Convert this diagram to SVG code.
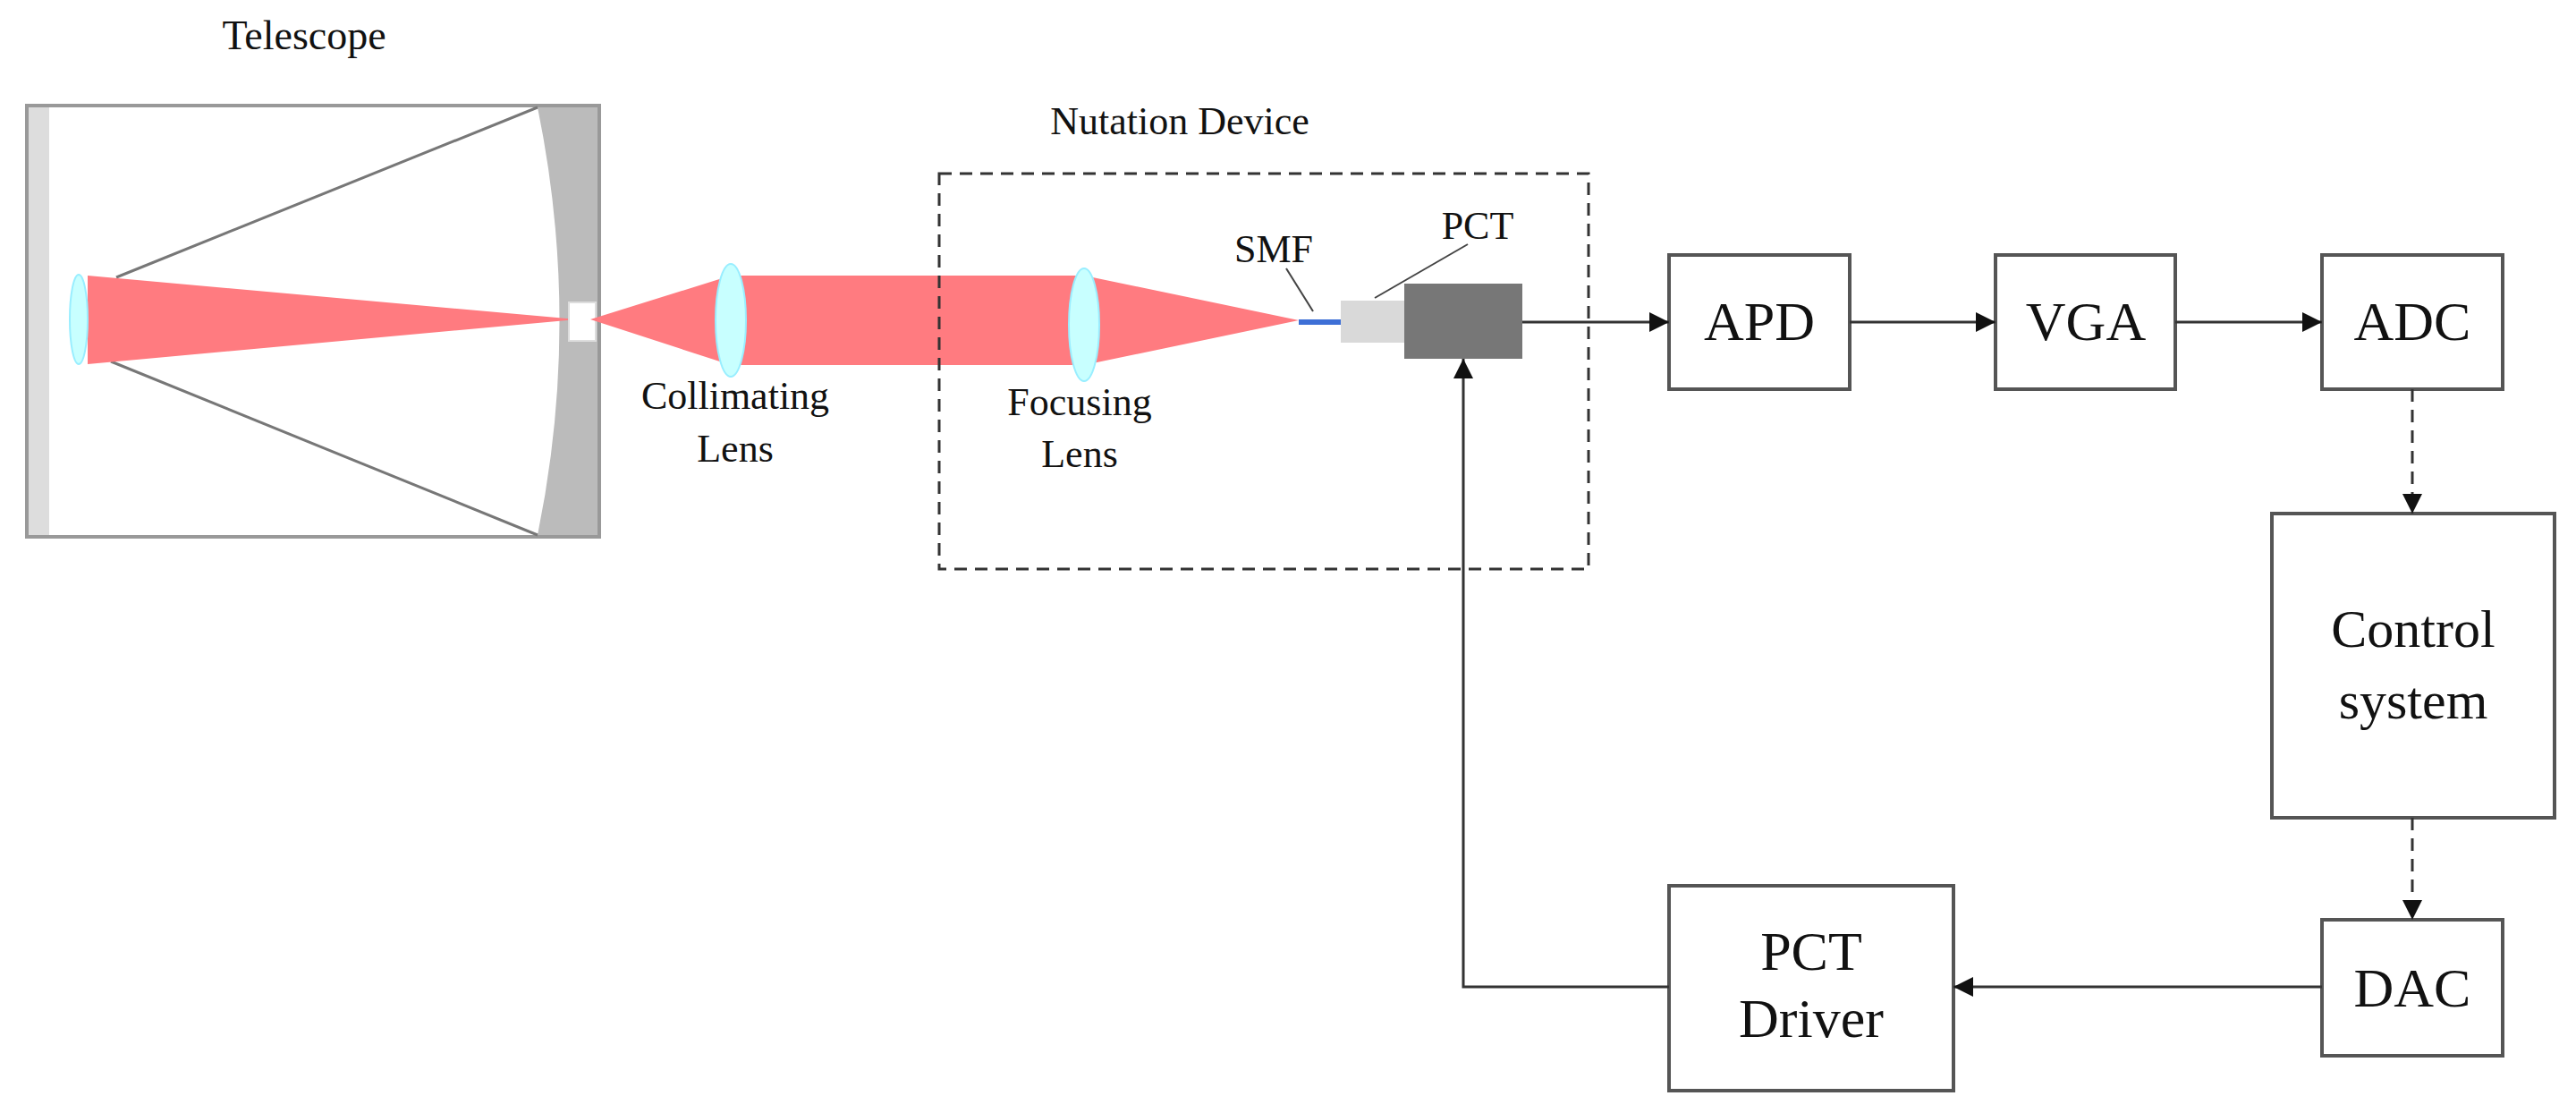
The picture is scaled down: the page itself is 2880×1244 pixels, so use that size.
<svg xmlns="http://www.w3.org/2000/svg" width="2880" height="1244" viewBox="0 0 2880 1244">
<style>
text{font-family:"Liberation Serif","Times New Roman",serif;fill:#111;text-anchor:middle}
.lbl{font-size:44px}
.box{font-size:62px}
.blk{fill:#fff;stroke:#555;stroke-width:4}
.con{stroke:#333;stroke-width:3;fill:none}
.dash{stroke-dasharray:14 9}
.lens{fill:#c8ffff;stroke:#9ef;stroke-width:2}
</style>
<defs>
<marker id="ah" markerWidth="10" markerHeight="10" refX="9" refY="5" orient="auto" markerUnits="userSpaceOnUse" viewBox="0 0 10 10"><path d="M0,0 L10,5 L0,10 z" fill="#111"/></marker>
<marker id="a" viewBox="0 0 10 10" refX="10" refY="5" markerWidth="22" markerHeight="22" markerUnits="userSpaceOnUse" orient="auto"><path d="M0,0 L10,5 L0,10 z" fill="#111"/></marker>
</defs>
<g id="telescope">
<text class="lbl" x="340" y="55" style="font-size:46px">Telescope</text>
<rect x="30" y="118" width="640" height="482" fill="#fff" stroke="#999" stroke-width="4"/>
<rect x="32" y="120" width="23" height="478" fill="#ddd"/>
<path d="M601,120 L668,120 L668,598 L601,598 Q650,359 601,120 z" fill="#bbb"/>
<line x1="601" y1="120" x2="130" y2="310" stroke="#777" stroke-width="3"/>
<line x1="124" y1="404" x2="601" y2="598" stroke="#777" stroke-width="3"/>
<path d="M98,308 L645,357 L98,407 z" fill="#ff7b80"/>
<ellipse cx="88" cy="357" rx="10" ry="50" class="lens"/>
<rect x="636" y="338" width="30" height="43" fill="#fff" stroke="#ddd" stroke-width="2"/>
</g>
<g id="collimating">
<path d="M660,357 L817,308 L817,408 z" fill="#ff7b80"/>
<rect x="817" y="308" width="395" height="100" fill="#ff7b80"/>
<ellipse cx="817" cy="358" rx="17" ry="63" class="lens"/>
<text class="lbl" x="822" y="457">Collimating</text>
<text class="lbl" x="822" y="516">Lens</text>
</g>
<g id="focusing">
<path d="M1212,308 L1452,358 L1212,408 z" fill="#ff7b80"/>
<ellipse cx="1212" cy="363" rx="17" ry="63" class="lens"/>
<text class="lbl" x="1207" y="464">Focusing</text>
<text class="lbl" x="1207" y="522">Lens</text>
</g>
<g id="nutation">
<rect x="1050" y="194" width="726" height="442" fill="none" stroke="#333" stroke-width="3" stroke-dasharray="14 9"/>
<text class="lbl" x="1319" y="150">Nutation Device</text>
<line x1="1452" y1="360" x2="1499" y2="360" stroke="#3d6fd6" stroke-width="6"/>
<rect x="1499" y="336" width="71" height="47" fill="#d9d9d9"/>
<rect x="1570" y="317" width="132" height="84" fill="#777"/>
<text class="lbl" x="1424" y="293">SMF</text>
<text class="lbl" x="1652" y="267">PCT</text>
<line x1="1438" y1="300" x2="1468" y2="348" stroke="#444" stroke-width="2"/>
<line x1="1641" y1="273" x2="1537" y2="333" stroke="#444" stroke-width="2"/>
</g>
<g id="apd"><rect class="blk" x="1866" y="285" width="202" height="150"/><text class="box" x="1967" y="380">APD</text></g>
<g id="vga"><rect class="blk" x="2231" y="285" width="201" height="150"/><text class="box" x="2332" y="380">VGA</text></g>
<g id="adc"><rect class="blk" x="2596" y="285" width="202" height="150"/><text class="box" x="2697" y="380">ADC</text></g>
<g id="control"><rect class="blk" x="2540" y="574" width="316" height="340"/><text class="box" x="2698" y="723" style="font-size:60px">Control</text><text class="box" x="2698" y="803" style="font-size:60px">system</text></g>
<g id="dac"><rect class="blk" x="2596" y="1028" width="202" height="152"/><text class="box" x="2697" y="1125">DAC</text></g>
<g id="driver"><rect class="blk" x="1866" y="990" width="318" height="229"/><text class="box" x="2025" y="1084">PCT</text><text class="box" x="2025" y="1159">Driver</text></g>
<g id="connectors">
<line class="con" x1="1702" y1="360" x2="1866" y2="360" marker-end="url(#a)"/>
<line class="con" x1="2068" y1="360" x2="2231" y2="360" marker-end="url(#a)"/>
<line class="con" x1="2432" y1="360" x2="2596" y2="360" marker-end="url(#a)"/>
<line class="con dash" x1="2697" y1="435" x2="2697" y2="574" marker-end="url(#a)"/>
<line class="con dash" x1="2697" y1="914" x2="2697" y2="1028" marker-end="url(#a)"/>
<line class="con" x1="2596" y1="1103" x2="2184" y2="1103" marker-end="url(#a)"/>
<polyline class="con" points="1866,1103 1636,1103 1636,401" marker-end="url(#a)"/>
</g>
</svg>
